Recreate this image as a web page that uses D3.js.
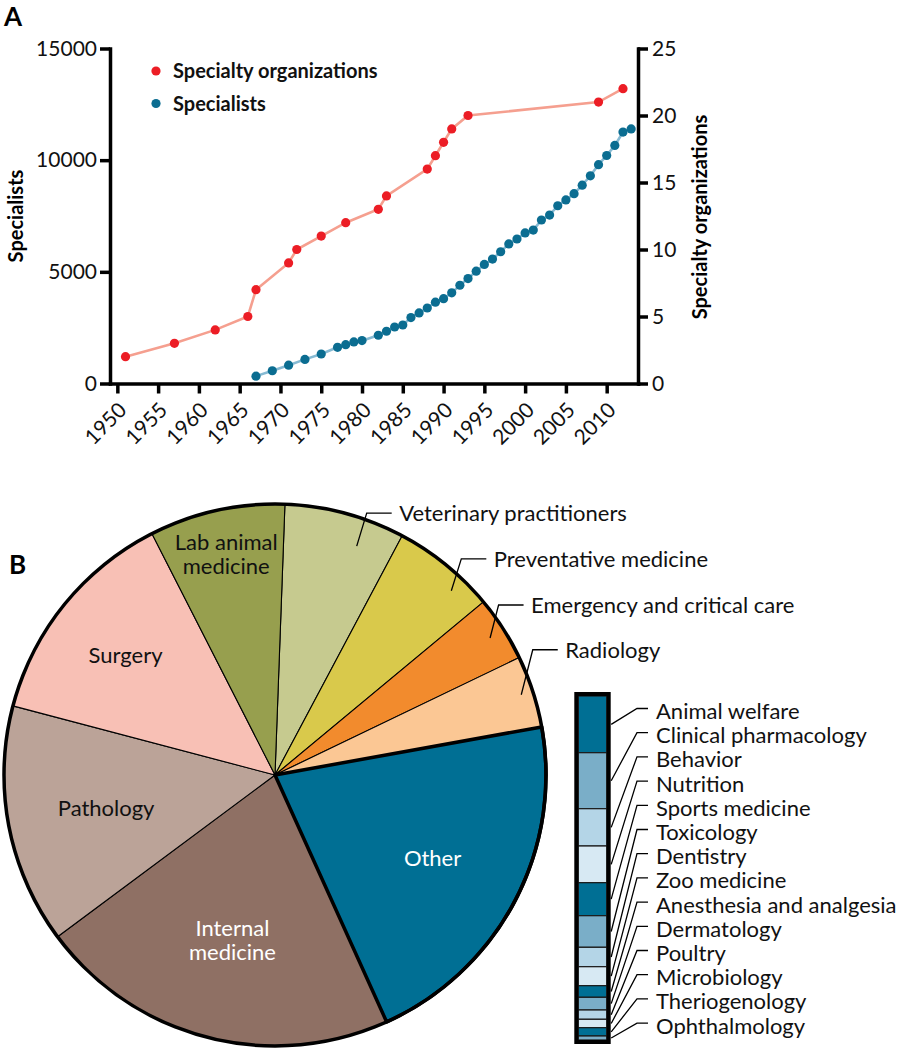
<!DOCTYPE html>
<html>
<head>
<meta charset="utf-8">
<script src="https://cdn.jsdelivr.net/npm/d3@7"></script>
<style>
body { margin: 0; background: #fff; }
svg { display: block; font-family: Lato, "Open Sans", sans-serif; }
</style>
</head>
<body>
<svg id="chart" width="898" height="1050"></svg>
<script>
// ---- panel A data ----
var orgYears = [1951, 1957, 1962, 1966, 1967, 1971, 1972, 1975, 1978, 1982, 1983, 1988, 1989, 1990, 1991, 1993, 2009, 2012];
var orgCounts = [2, 3, 4, 5, 7, 9, 10, 11, 12, 13, 14, 16, 17, 18, 19, 20, 21, 22];

var specYears = [1967, 1969, 1971, 1973, 1975, 1977, 1978, 1979, 1980, 1982, 1983,
    1984, 1985, 1986, 1987, 1988, 1989, 1990, 1991, 1992, 1993, 1994, 1995, 1996, 1997, 1998,
    1999, 2000, 2001, 2002, 2003, 2004, 2005, 2006, 2007, 2008, 2009, 2010, 2011, 2012, 2013];
var specCounts = [330, 570, 820, 1080, 1320, 1620, 1740, 1860, 1920, 2160, 2340,
    2530, 2620, 2950, 3160, 3380, 3640, 3800, 4060, 4400, 4700, 5030, 5330, 5570, 5900, 6250,
    6470, 6740, 6870, 7320, 7540, 7960, 8220, 8500, 8880, 9300, 9800, 10210, 10660, 11260, 11400];

var yearTicks = [1950, 1955, 1960, 1965, 1970, 1975, 1980, 1985, 1990, 1995, 2000, 2005, 2010];
var specTicks = [0, 5000, 10000, 15000];
var orgTicks = [0, 5, 10, 15, 20, 25];

// ---- panel B data ----
var groups = ["Veterinary practitioners", "Preventative medicine", "Emergency and critical care", "Radiology",
    "Other", "Internal medicine", "Pathology", "Surgery", "Lab animal medicine"];
var groupShares = [7.2, 6.2, 3.9, 4.3, 21.1, 21.6, 14.3, 13.4, 8.1];
var groupColors = ["#c6ca8f", "#d9c94b", "#f28b2d", "#fbc794", "#006f94", "#8f7064", "#bba398", "#f8c0b5", "#979f4e"];

var otherGroups = ["Animal welfare", "Clinical pharmacology", "Behavior", "Nutrition", "Sports medicine",
    "Toxicology", "Dentistry", "Zoo medicine", "Anesthesia and analgesia", "Dermatology", "Poultry",
    "Microbiology", "Theriogenology", "Ophthalmology"];
var otherShares = [56.7, 56, 37.3, 36.7, 33, 31.6, 19.4, 19, 11.6, 12.7, 9.3, 8.4, 8.3, 4];
var otherColors = ["#006f94", "#7aaec8", "#b4d5e7", "#d7e9f3"];

var svg = d3.select("#chart");
svg.append("rect").attr("width", 898).attr("height", 1050).attr("fill", "#fff");

// ================= A =================
var x = d3.scaleLinear().domain([1949.1, 2013.84]).range([110, 638]);
var yL = d3.scaleLinear().domain([0, 15000]).range([383.5, 48.5]);
var yR = d3.scaleLinear().domain([0, 25]).range([383.5, 48.5]);

svg.append("text").attr("x", 4).attr("y", 26)
    .attr("font-size", 26).attr("font-weight", 700).text("A");

function styleAxis(g) {
    g.select(".domain").attr("stroke", "#000").attr("stroke-width", 3.5).attr("stroke-linecap", "square");
    g.selectAll(".tick line").attr("stroke", "#000").attr("stroke-width", 3.5);
    g.selectAll(".tick text").attr("fill", "#111").attr("font-size", 21).attr("font-family", "Lato");
}

var axL = svg.append("g").attr("transform", "translate(110,0)")
    .call(d3.axisLeft(yL).tickValues(specTicks).tickSize(10).tickSizeOuter(0).tickPadding(3).tickFormat(d3.format("d")));
styleAxis(axL);

var axR = svg.append("g").attr("transform", "translate(638,0)")
    .call(d3.axisRight(yR).tickValues(orgTicks).tickSize(10).tickSizeOuter(0).tickPadding(4));
styleAxis(axR);

var axB = svg.append("g").attr("transform", "translate(0,383.5)")
    .call(d3.axisBottom(x).tickValues(yearTicks).tickSize(10).tickSizeOuter(0).tickFormat(d3.format("d")));
styleAxis(axB);
axB.selectAll(".tick text")
    .attr("x", 0).attr("y", 0).attr("dy", 0)
    .attr("text-anchor", "end")
    .attr("transform", "translate(10,28) rotate(-45)");

svg.append("text")
    .attr("transform", "translate(23,216) rotate(-90)")
    .attr("text-anchor", "middle").attr("font-size", 20).attr("font-weight", 700)
    .text("Specialists");
svg.append("text")
    .attr("transform", "translate(707,217) rotate(-90)")
    .attr("text-anchor", "middle").attr("font-size", 20).attr("font-weight", 700)
    .text("Specialty organizations");

var orgData = orgYears.map(function (d, i) { return [d, orgCounts[i]]; });
var specData = specYears.map(function (d, i) { return [d, specCounts[i]]; });

svg.append("path").datum(orgData)
    .attr("fill", "none").attr("stroke", "#f59f8f").attr("stroke-width", 2.6)
    .attr("d", d3.line().x(function (d) { return x(d[0]); }).y(function (d) { return yR(d[1]); }));
svg.append("path").datum(specData)
    .attr("fill", "none").attr("stroke", "#86bad3").attr("stroke-width", 2.6)
    .attr("d", d3.line().x(function (d) { return x(d[0]); }).y(function (d) { return yL(d[1]); }));

svg.append("g").selectAll("circle").data(orgData).join("circle")
    .attr("cx", function (d) { return x(d[0]); })
    .attr("cy", function (d) { return yR(d[1]); })
    .attr("r", 4.6).attr("fill", "#ec1d25");
svg.append("g").selectAll("circle").data(specData).join("circle")
    .attr("cx", function (d) { return x(d[0]); })
    .attr("cy", function (d) { return yL(d[1]); })
    .attr("r", 4.6).attr("fill", "#0b6d91");

// legend
var legend = [["Specialty organizations", "#ec1d25"], ["Specialists", "#0b6d91"]];
var lg = svg.append("g").selectAll("g").data(legend).join("g")
    .attr("transform", function (d, i) { return "translate(156," + (71 + i * 32.5) + ")"; });
lg.append("circle").attr("r", 4.6).attr("fill", function (d) { return d[1]; });
lg.append("text").attr("x", 17).attr("y", 7).attr("font-size", 20).attr("font-weight", 700)
    .attr("fill", "#111").text(function (d) { return d[0]; });

// ================= B =================
svg.append("text").attr("x", 9).attr("y", 574)
    .attr("font-size", 26).attr("font-weight", 700).text("B");

var cx = 275, cy = 775, R = 271;
var deg = Math.PI / 180;
var pie = d3.pie().sort(null).value(function (d) { return d; })
    .startAngle(2.1 * deg).endAngle(2.1 * deg + 2 * Math.PI);
var slices = pie(groupShares);
var arc = d3.arc().innerRadius(0).outerRadius(R);

var pg = svg.append("g").attr("transform", "translate(" + cx + "," + cy + ")");
pg.selectAll("path.slice").data(slices).join("path")
    .attr("class", "slice")
    .attr("d", arc)
    .attr("fill", function (d, i) { return groupColors[i]; })
    .attr("stroke", "#000").attr("stroke-width", 1.1).attr("stroke-linejoin", "round");
pg.append("circle").attr("r", R).attr("fill", "none").attr("stroke", "#000").attr("stroke-width", 3.5);
pg.append("path").datum(slices[4]).attr("d", arc)
    .attr("fill", "none").attr("stroke", "#000").attr("stroke-width", 3.5).attr("stroke-linejoin", "round");

// inside labels: radius per slice (null = outside label)
var insideR = [null, null, null, null, 178, 170, 172, 192, 226];
var insideFill = ["#111", "#111", "#111", "#111", "#fff", "#fff", "#111", "#111", "#111"];
slices.forEach(function (d, i) {
    if (insideR[i] === null) return;
    var c = d3.arc().innerRadius(insideR[i]).outerRadius(insideR[i]).centroid(d);
    var name = groups[i];
    var words = name.split(" ");
    var lines = words.length > 1 ? [words.slice(0, -1).join(" "), words[words.length - 1]] : [name];
    var t = pg.append("text").attr("text-anchor", "middle").attr("font-size", 22)
        .attr("fill", insideFill[i]);
    lines.forEach(function (ln, k) {
        t.append("tspan").attr("x", c[0])
            .attr("y", c[1] + 8 + (k - (lines.length - 1) / 2) * 24)
            .text(ln);
    });
});

// outside labels with leader lines
var leader = [
    { da: 4.6, r: 243, ex: 10, ey: -33 },
    { da: 4.6, r: 255, ex: 10, ey: -32 },
    { da: 0.2, r: 255, ex: 8.5, ey: -33 },
    { da: -0.1, r: 259, ex: 11.5, ey: -45 }
];
leader.forEach(function (L, i) {
    var d = slices[i];
    var a = (d.startAngle + d.endAngle) / 2 + L.da * deg;
    var sx = Math.sin(a) * L.r, sy = -Math.cos(a) * L.r;
    var ex = sx + L.ex, ey = sy + L.ey;
    pg.append("path")
        .attr("d", d3.line()([[sx, sy], [ex, ey], [ex + 25, ey]]))
        .attr("fill", "none").attr("stroke", "#000").attr("stroke-width", 1.3);
    pg.append("text").attr("x", ex + 32.5).attr("y", ey + 8)
        .attr("font-size", 22).attr("fill", "#111").text(groups[i]);
});

// stacked bar of "Other"
var barX = 578.3, barW = 28.4, barTop = 696, barBot = 1040;
var stackEnds = d3.cumsum(otherShares);
var yb = d3.scaleLinear().domain([0, d3.sum(otherShares)]).range([barTop, barBot]);
var segs = otherShares.map(function (v, i) { return { i: i, y0: stackEnds[i] - v, y1: stackEnds[i] }; });

svg.append("g").selectAll("rect").data(segs).join("rect")
    .attr("x", barX).attr("width", barW)
    .attr("y", function (d) { return yb(d.y0); })
    .attr("height", function (d) { return yb(d.y1) - yb(d.y0); })
    .attr("fill", function (d) { return otherColors[d.i % 4]; })
    .attr("stroke", "#1a1a1a").attr("stroke-width", 1.2);
svg.append("rect").attr("x", barX - 2).attr("y", barTop - 2)
    .attr("width", barW + 4).attr("height", barBot - barTop + 4)
    .attr("fill", "none").attr("stroke", "#000").attr("stroke-width", 4);

var labelY0 = 711, labelStep = 24.2;
var bl = svg.append("g").selectAll("g").data(segs).join("g");
bl.append("path")
    .attr("d", function (d) {
        var ly = labelY0 + d.i * labelStep - 2.5;
        var my = (yb(d.y0) + yb(d.y1)) / 2;
        return d3.line()([[barX + barW + 4.5, my], [637, ly], [648, ly]]);
    })
    .attr("fill", "none").attr("stroke", "#000").attr("stroke-width", 1.3);
bl.append("text")
    .attr("x", 656)
    .attr("y", function (d) { return labelY0 + d.i * labelStep + 8; })
    .attr("font-size", 22).attr("fill", "#111")
    .text(function (d) { return otherGroups[d.i]; });
</script>
</body>
</html>
